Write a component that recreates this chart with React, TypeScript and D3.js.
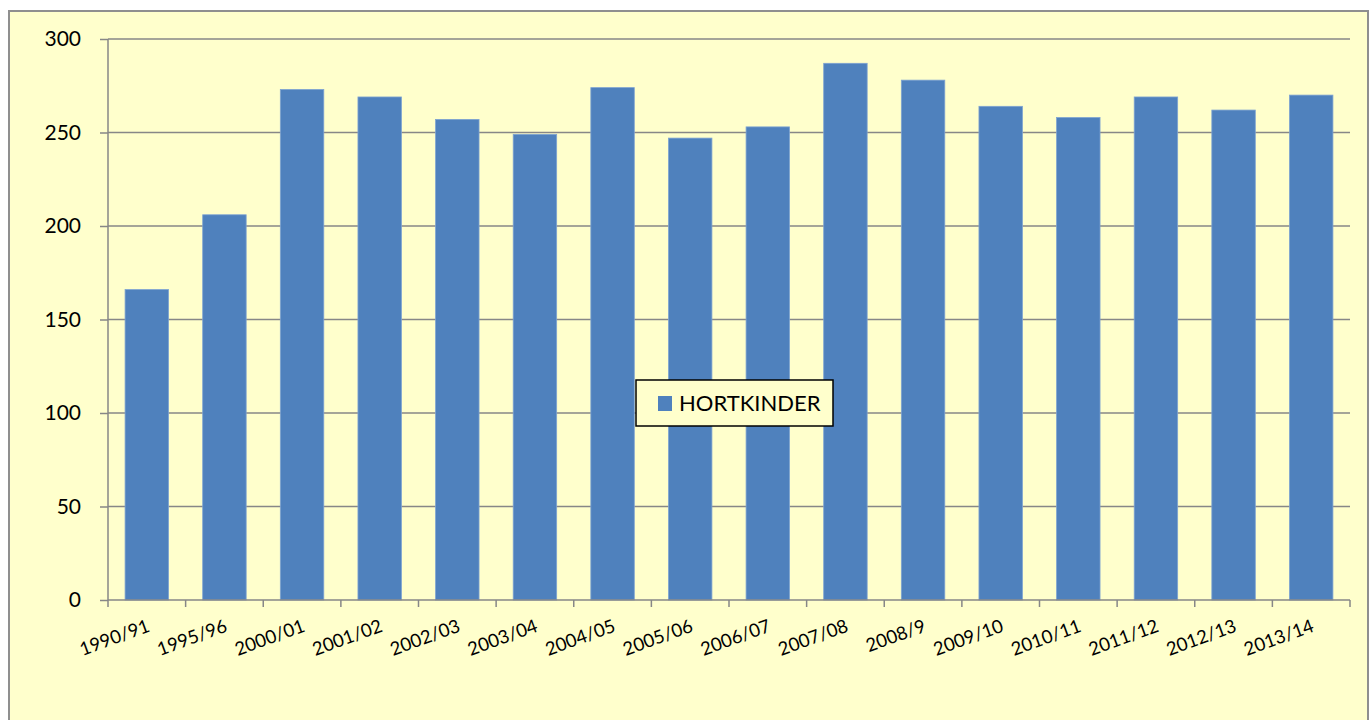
import React, { useRef, useEffect } from 'react';
import * as d3 from 'd3';

const years = ['1990/91', '1995/96', '2000/01', '2001/02', '2002/03', '2003/04', '2004/05', '2005/06',
    '2006/07', '2007/08', '2008/9', '2009/10', '2010/11', '2011/12', '2012/13', '2013/14'];
const hortkinder = [166, 206, 273, 269, 257, 249, 274, 247, 253, 287, 278, 264, 258, 269, 262, 270];
const yTicks = [0, 50, 100, 150, 200, 250, 300];
const seriesName = 'HORTKINDER';

const HortChart = ({ width, height }) => {
    const svgRef = useRef(null);

    useEffect(() => {
        const svg = d3.select(svgRef.current);
        svg.selectAll("*").remove();

        const margin = { top: 39, right: 19, bottom: 120, left: 108 };
        const chartWidth = width - margin.left - margin.right;
        const chartHeight = height - margin.top - margin.bottom;
        const font = "Lato, Carlito, 'Open Sans', sans-serif";
        const gray = "#878787";

        // outer chart area
        svg.append("rect")
            .attr("x", 9)
            .attr("y", 11)
            .attr("width", width - 10)
            .attr("height", height + 20)
            .attr("fill", "#FFFFCC")
            .attr("stroke", "#8f8f8f")
            .attr("stroke-width", 2);

        const x = d3.scaleBand()
            .domain(years)
            .range([0, chartWidth])
            .paddingInner(0.44)
            .paddingOuter(0.22);

        const y = d3.scaleLinear()
            .domain([0, 300])
            .range([chartHeight, 0]);

        const chart = svg.append("g")
            .attr("transform", `translate(${margin.left},${margin.top})`);

        // gridlines
        chart.selectAll(".grid")
            .data(yTicks.filter(t => t > 0))
            .enter()
            .append("line")
            .attr("x1", 0)
            .attr("x2", chartWidth)
            .attr("y1", d => y(d))
            .attr("y2", d => y(d))
            .attr("stroke", gray)
            .attr("stroke-width", 1.5);

        chart.selectAll(".bar")
            .data(hortkinder)
            .enter()
            .append("rect")
            .attr("x", (d, i) => x(years[i]))
            .attr("y", d => y(d))
            .attr("width", x.bandwidth())
            .attr("height", d => chartHeight - y(d))
            .attr("fill", "#4F81BD")
            .attr("stroke", "#7ea3d2")
            .attr("stroke-width", 0.8);

        const yAxis = d3.axisLeft(y)
            .tickValues(yTicks)
            .tickSize(8)
            .tickPadding(19);

        const yg = chart.append("g").call(yAxis);
        yg.selectAll("path, line").attr("stroke", gray).attr("stroke-width", 1.5);
        yg.selectAll("text")
            .attr("font-family", font)
            .attr("font-size", 21)
            .attr("fill", "#000");
        yg.select(".domain").attr("d", `M0,0V${chartHeight}`);

        // x axis with ticks at band boundaries
        const step = x.step();
        const boundaries = d3.range(years.length + 1).map(i => i * step);
        const xg = chart.append("g")
            .attr("transform", `translate(0,${chartHeight})`);
        xg.append("line")
            .attr("x1", 0)
            .attr("x2", chartWidth)
            .attr("stroke", gray)
            .attr("stroke-width", 1.5);
        xg.selectAll(".tick")
            .data(boundaries)
            .enter()
            .append("line")
            .attr("x1", d => d)
            .attr("x2", d => d)
            .attr("y1", 0)
            .attr("y2", 7)
            .attr("stroke", gray)
            .attr("stroke-width", 1.5);
        xg.selectAll(".label")
            .data(years)
            .enter()
            .append("text")
            .attr("transform", d => `translate(${x(d) + x.bandwidth() / 2 + 4},${31}) rotate(-20)`)
            .attr("text-anchor", "end")
            .attr("font-family", font)
            .attr("font-size", 18.5)
            .attr("fill", "#000")
            .text(d => d);

        // legend
        const legend = svg.append("g").attr("transform", "translate(636,380)");
        legend.append("rect")
            .attr("width", 197)
            .attr("height", 46)
            .attr("fill", "#FFFFCC")
            .attr("stroke", "#000")
            .attr("stroke-width", 1.5);
        legend.append("rect")
            .attr("x", 22)
            .attr("y", 16)
            .attr("width", 14)
            .attr("height", 15)
            .attr("fill", "#4F81BD");
        legend.append("text")
            .attr("x", 43)
            .attr("y", 31)
            .attr("font-family", font)
            .attr("font-size", 22)
            .attr("fill", "#000")
            .text(seriesName);
    }, [width, height]);

    return <svg ref={svgRef} width={width} height={height}></svg>;
};

export default function App() {
    return (
        <div style={{ position: 'absolute', left: 0, top: 0 }}>
            <HortChart width={1369} height={720} />
        </div>
    );
}
